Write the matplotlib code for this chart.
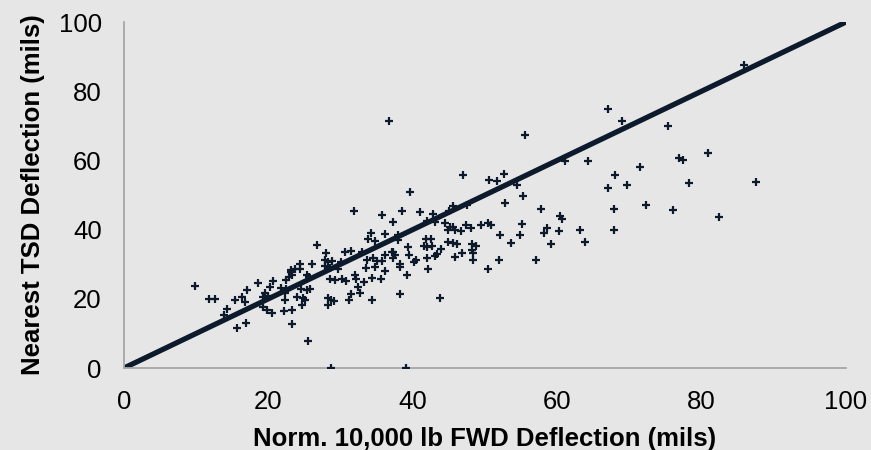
import numpy as np
import matplotlib.pyplot as plt

plt.rcParams['font.family'] = ['Liberation Sans', 'DejaVu Sans']

# Norm. 10,000 lb FWD deflection (mils) vs nearest TSD deflection (mils)
fwd = [9.8, 11.7, 12.6, 13.8, 14.2, 15.4, 15.7, 16.3, 16.8, 16.9, 17.0, 18.5,
       19.3, 19.3, 19.5, 19.8, 19.9, 20.2, 20.5, 20.7, 21.7, 22.2, 22.3, 22.3,
       22.5, 22.5, 22.8, 23.1, 23.1, 23.2, 23.3, 23.3,
       23.7, 23.9, 24.4, 24.4, 24.5, 24.6, 24.8, 25.1, 25.3, 25.3, 25.5, 25.6,
       25.8, 26.0, 26.7, 27.8, 27.9, 28.0, 28.2, 28.3, 28.3, 28.5, 28.5, 28.6,
       28.7, 28.8, 29.1, 29.2, 29.7, 30.2, 30.6, 30.7, 31.1, 31.4, 31.4, 31.8,
       32.0, 32.1, 32.4, 32.7, 33.2, 33.5, 33.6, 33.8, 34.2, 34.4, 34.4, 34.5,
       34.7, 34.8, 35.0, 35.6, 35.7, 35.7, 36.1, 36.1, 36.1, 36.7, 37.1, 37.2,
       37.3, 37.3, 37.5, 37.9, 38.2, 38.2, 38.2, 38.5, 39.1, 39.2, 39.3, 39.5,
       39.6, 40.1, 40.4, 41.0, 41.5, 41.8, 41.9, 41.9, 42.1, 42.5, 42.6, 42.8,
       43.1, 43.1, 43.4, 43.7, 43.9, 44.5, 44.9, 44.9, 45.2, 45.6, 45.6, 45.6,
       45.8, 45.8, 46.1, 46.7, 46.8, 47.0, 47.3, 48.0, 48.2, 48.2, 48.3, 48.4,
       48.7, 49.5, 50.4, 50.4, 50.6, 50.8, 51.7, 51.9, 52.1, 52.6, 52.7, 53.6,
       54.4, 54.8, 55.1, 55.3, 55.5, 57.1, 57.8, 58.2, 58.6, 59.2, 60.3, 60.4,
       60.6, 61.1, 63.1, 63.9, 64.2, 67.1, 67.1, 67.9, 67.9, 68.0, 69.0, 69.6,
       71.4, 72.3, 75.3, 76.0, 76.8, 77.4, 78.2, 80.9, 82.4, 85.9, 87.6,
       30.0, 33.0, 38.0, 42.0, 45.0, 47.5]
tsd = [23.8, 19.9, 19.9, 15.3, 17.0, 19.7, 11.5, 20.4, 19.2, 13.1, 22.5, 24.7,
       20.6, 17.5, 21.8, 16.8, 20.8, 23.5, 16.0, 25.2, 23.0, 16.6, 21.8, 19.7,
       25.4, 22.7, 26.4, 27.8, 28.3, 16.8, 26.9, 12.7,
       28.5, 20.4, 30.2, 28.5, 22.7, 18.2, 20.1, 19.8, 26.9, 22.5, 7.7, 26.2,
       22.7, 30.1, 35.6, 29.4, 31.2, 33.1, 20.1, 30.5, 18.2, 28.8, 25.6, 0.0,
       19.7, 31.0, 19.4, 25.4, 28.5, 25.6, 33.5, 25.2, 19.7, 33.7, 21.4, 45.4,
       26.9, 25.6, 23.5, 21.8, 24.9, 28.8, 31.2, 37.2, 38.9, 25.9, 19.7, 31.7,
       36.6, 29.1, 31.0, 25.6, 31.0, 44.2, 38.7, 27.9, 32.7, 71.5, 33.4, 33.6,
       42.1, 31.7, 32.7, 37.0, 30.2, 29.3, 21.3, 45.5, 0.0, 27.0, 35.1, 32.8,
       50.8, 30.7, 31.2, 45.1, 35.3, 37.2, 35.1, 31.7, 28.5, 37.4, 35.4, 44.4,
       42.3, 32.4, 32.9, 20.1, 34.3, 41.8, 39.9, 36.5, 40.8, 40.7, 46.8, 36.2,
       39.9, 32.2, 35.7, 39.5, 33.1, 55.9, 41.2, 40.6, 35.7, 34.1, 31.1, 33.1,
       35.4, 41.2, 42.0, 28.5, 54.3, 41.2, 54.1, 31.2, 38.3, 56.2, 47.6, 36.0,
       52.8, 38.3, 41.7, 49.7, 67.3, 31.3, 46.0, 38.9, 40.5, 35.8, 39.7, 43.9,
       43.1, 59.9, 39.9, 36.4, 59.8, 74.9, 52.1, 46.0, 40.0, 55.9, 71.3, 52.8,
       58.0, 47.2, 70.0, 45.7, 60.6, 60.1, 53.6, 62.0, 43.5, 87.6, 53.8,
       30.5, 33.5, 38.5, 42.5, 45.5, 47.0]
equality = [0, 100]
ticks = [0, 20, 40, 60, 80, 100]

bg = '#e6e6e6'
navy = '#0c1a2b'

fig = plt.figure(figsize=(8.71, 4.5), dpi=100, facecolor=bg)
ax = fig.add_axes([0.1424, 0.1822, 0.8289, 0.7689], facecolor=bg)

ax.scatter(fwd, tsd, marker='+', s=36, linewidths=1.6, color=navy, zorder=3)
ax.plot(equality, equality, color=navy, linewidth=3.8, zorder=2,
        solid_capstyle='butt')

ax.set_xlim(0, 100)
ax.set_ylim(0, 100)
ax.set_xticks(ticks)
ax.set_yticks(ticks)
ax.tick_params(axis='x', length=0, pad=16, labelsize=18.5, colors='black')
ax.tick_params(axis='y', length=0, pad=16, labelsize=18.5, colors='black')

for side in ['top', 'right']:
    ax.spines[side].set_visible(False)
for side in ['left', 'bottom']:
    ax.spines[side].set_color('#a6a6a6')
    ax.spines[side].set_linewidth(1.3)

ax.set_xlabel('Norm. 10,000 lb FWD Deflection (mils)', fontsize=18.5,
              fontweight='bold', labelpad=9)
ax.set_ylabel('Nearest TSD Deflection (mils)', fontsize=18.5,
              fontweight='bold', labelpad=10)

fig.savefig('out.png', dpi=100, facecolor=bg)
